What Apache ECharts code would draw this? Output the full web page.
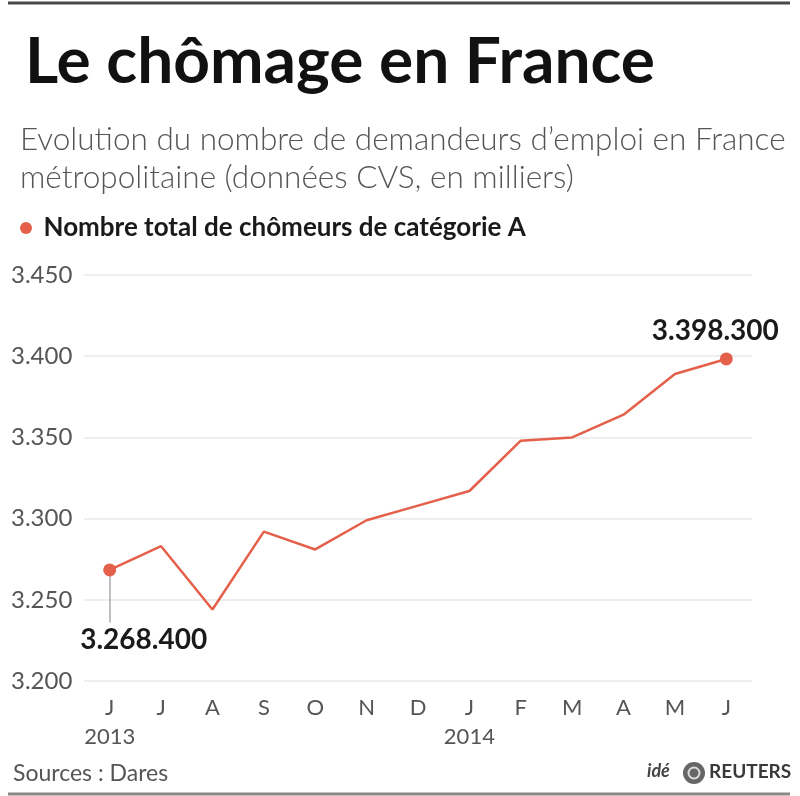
<!DOCTYPE html>
<html>
<head>
<meta charset="utf-8">
<script src="https://cdn.jsdelivr.net/npm/echarts@6/dist/echarts.min.js"></script>
<style>
html,body{margin:0;padding:0;background:#fff;}
#chart{width:800px;height:796px;}
</style>
</head>
<body>
<div id="chart"></div>
<script>
// Data (milliers)
var months = ['J','J','A','S','O','N','D','J','F','M','A','M','J'];
var years = ['2013','','','','','','','2014','','','','',''];
var chomeurs = [3268.4, 3283, 3244, 3292, 3281, 3299, 3308, 3317, 3348, 3350, 3364, 3389, 3398.3];
var yTicks = [3200, 3250, 3300, 3350, 3400, 3450];
var seriesName = 'Nombre total de chômeurs de catégorie A';
var titleText = 'Le chômage en France';
var subtitleText = 'Evolution du nombre de demandeurs d\u2019emploi en France\nmétropolitaine (données CVS, en milliers)';
var sourceText = 'Sources : Dares';

var FONT = 'Lato, "Open Sans", sans-serif';
var RED = '#e4604b';

function fmtUnits(v){ // 3268.4 -> 3.268.400
  var n = Math.round(v*1000).toString();
  return n.replace(/\B(?=(\d{3})+(?!\d))/g, '.');
}

var categories = months.map(function(m,i){ return years[i] ? m + '\n' + years[i] : m; });
var last = chomeurs.length - 1;

var chart = echarts.init(document.getElementById('chart'), null, {renderer:'canvas'});
chart.setOption({
  backgroundColor:'#fff',
  animation:false,
  title:[
    {text:titleText, left:20, top:25, textStyle:{fontFamily:FONT, fontWeight:'bold', fontSize:64, color:'#111'}},
    {text:subtitleText, left:15, top:116, textStyle:{fontFamily:FONT, fontWeight:300, fontSize:31.5, lineHeight:38, color:'#555'}},
    {text:sourceText, left:8, top:757, textStyle:{fontFamily:FONT, fontWeight:'normal', fontSize:23, color:'#555'}}
  ],
  legend:{
    left:15, top:210, icon:'circle', itemWidth:25, itemHeight:12, itemGap:10,
    data:[seriesName],
    textStyle:{fontFamily:FONT, fontWeight:'bold', fontSize:26, color:'#1a1a1a'}
  },
  grid:{left:84, right:48, top:275, bottom:115},
  xAxis:{
    type:'category', data:categories, boundaryGap:true,
    axisLine:{show:false}, axisTick:{show:false},
    axisLabel:{margin:12, fontFamily:FONT, fontSize:22, lineHeight:29, color:'#555', interval:0}
  },
  yAxis:{
    type:'value', min:3200, max:3450, interval:50,
    axisLine:{show:false}, axisTick:{show:false},
    splitLine:{lineStyle:{color:'#e8e8e8', width:1.5}},
    axisLabel:{
      margin:73, align:'left', fontFamily:FONT, fontSize:24, color:'#555', padding:[11,0,0,0],
      formatter:function(v){ return yTicks.indexOf(v) >= 0 ? (v/1000).toFixed(3) : ''; }
    }
  },
  series:[{
    name:seriesName, type:'line', data:chomeurs.map(function(v,i){
      if(i===0){
        return {value:v, symbolSize:13, label:{show:true, position:'bottom', distance:50, offset:[34,0]}};
      }
      if(i===last){
        return {value:v, symbolSize:13, label:{show:true, position:'top', distance:7, offset:[-11,0]}};
      }
      return {value:v, symbolSize:0};
    }),
    symbol:'circle',
    itemStyle:{color:RED},
    lineStyle:{color:RED, width:2.5},
    label:{show:false, fontFamily:FONT, fontWeight:'bold', fontSize:28, color:'#1a1a1a',
      formatter:function(p){ return fmtUnits(p.value); }},
    markLine:{
      silent:true, symbol:'none', label:{show:false},
      lineStyle:{color:'#aaa', width:1.5, type:'solid'},
      data:[[{coord:[0, chomeurs[0]]},{coord:[0, 3236]}]],
      z:1
    },
    z:3
  }],
  graphic:[
    {type:'line', shape:{x1:8,y1:3,x2:790,y2:3}, style:{stroke:'#4a4a4a', lineWidth:3}},
    {type:'line', shape:{x1:8,y1:794,x2:790,y2:794}, style:{stroke:'#888', lineWidth:3}},
    {type:'text', left:647, top:762, style:{text:'idé', fontFamily:FONT, fontStyle:'italic', fontWeight:'bold', fontSize:18, fill:'#444'}},
    {type:'circle', shape:{cx:694, cy:773, r:11}, style:{fill:'#666'}},
    {type:'circle', shape:{cx:694, cy:773, r:5.5}, style:{fill:'none', stroke:'#ddd', lineWidth:2}},
    {type:'text', left:709, top:762, style:{text:'REUTERS', fontFamily:FONT, fontWeight:'bold', fontSize:19, fill:'#3a3a3a'}}
  ]
});
</script>
</body>
</html>
